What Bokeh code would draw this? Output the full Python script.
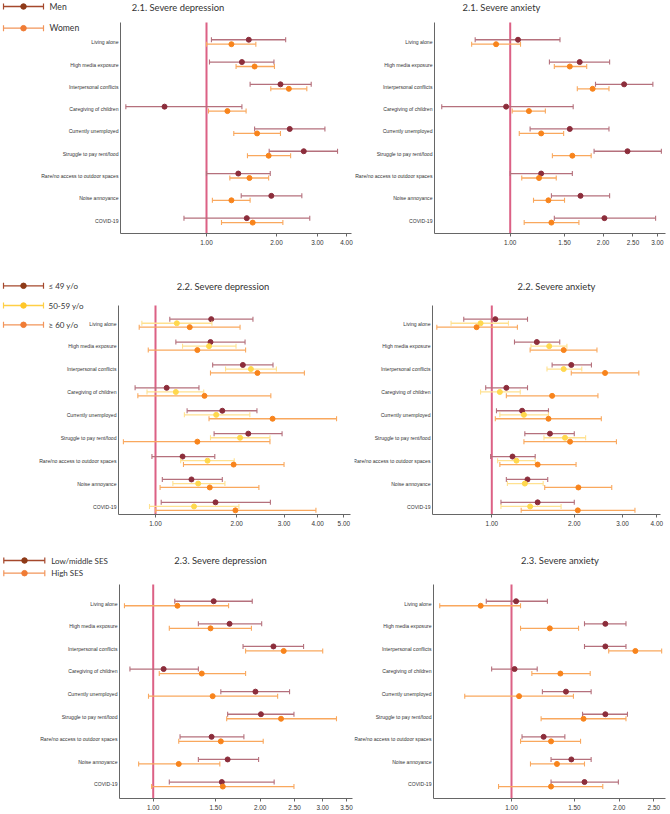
import numpy as np
from bokeh.plotting import figure
from bokeh.layouts import row, column
from bokeh.models import Range1d, FixedTicker, PrintfTickFormatter, Label
from bokeh.embed import file_html
from bokeh.resources import INLINE

# ---------------- data ----------------
categories = ["Living alone", "High media exposure", "Interpersonal conflicts",
              "Caregiving of children", "Currently unemployed", "Struggle to pay rent/food",
              "Rare/no access to outdoor spaces", "Noise annoyance", "COVID-19"]

# 2.1 Severe depression (Men / Women)
dep21_men_or = [1.52, 1.42, 2.08, 0.66, 2.28, 2.62, 1.37, 1.90, 1.49]
dep21_men_lo = [1.05, 1.03, 1.54, 0.45, 1.61, 1.86, 1.00, 1.41, 0.80]
dep21_men_hi = [2.19, 1.95, 2.82, 1.42, 3.23, 3.66, 1.88, 2.57, 2.78]
dep21_women_or = [1.28, 1.61, 2.26, 1.23, 1.65, 1.85, 1.53, 1.28, 1.58]
dep21_women_lo = [1.00, 1.34, 1.89, 1.02, 1.31, 1.50, 1.26, 1.06, 1.16]
dep21_women_hi = [1.63, 1.96, 2.70, 1.48, 2.08, 2.30, 1.85, 1.54, 2.13]

# 2.1 Severe anxiety
anx21_men_or = [1.06, 1.68, 2.34, 0.97, 1.56, 2.40, 1.26, 1.69, 2.02]
anx21_men_lo = [0.77, 1.34, 1.89, 0.60, 1.16, 1.87, 1.00, 1.36, 1.39]
anx21_men_hi = [1.45, 2.10, 2.90, 1.60, 2.09, 3.09, 1.59, 2.10, 2.96]
anx21_women_or = [0.90, 1.56, 1.85, 1.15, 1.26, 1.59, 1.24, 1.33, 1.36]
anx21_women_lo = [0.75, 1.39, 1.65, 1.015, 1.07, 1.37, 1.09, 1.19, 1.11]
anx21_women_hi = [1.08, 1.77, 2.09, 1.30, 1.49, 1.83, 1.41, 1.50, 1.67]

# 2.2 Severe depression (<=49, 50-59, >=60)
dep22_a49_or = [1.61, 1.60, 2.11, 1.10, 1.77, 2.21, 1.26, 1.36, 1.67]
dep22_a49_lo = [1.13, 1.19, 1.63, 0.84, 1.31, 1.65, 0.97, 1.06, 1.05]
dep22_a49_hi = [2.30, 2.15, 2.73, 1.45, 2.38, 2.95, 1.66, 1.77, 2.67]
dep22_a50_or = [1.20, 1.58, 2.26, 1.19, 1.68, 2.06, 1.56, 1.44, 1.39]
dep22_a50_lo = [0.89, 1.26, 1.82, 0.93, 1.28, 1.60, 1.24, 1.16, 0.95]
dep22_a50_hi = [1.62, 1.99, 2.81, 1.51, 2.24, 2.66, 1.96, 1.81, 2.04]
dep22_a60_or = [1.34, 1.43, 2.39, 1.52, 2.72, 1.43, 1.95, 1.59, 1.98]
dep22_a60_lo = [0.87, 0.94, 1.60, 0.86, 1.58, 0.76, 1.27, 1.04, 1.00]
dep22_a60_hi = [2.06, 2.16, 3.57, 2.68, 4.70, 2.66, 3.00, 2.42, 3.94]

# 2.2 Severe anxiety
anx22_a49_or = [1.03, 1.46, 1.95, 1.13, 1.29, 1.63, 1.19, 1.35, 1.47]
anx22_a49_lo = [0.79, 1.21, 1.66, 0.95, 1.04, 1.32, 0.99, 1.13, 1.08]
anx22_a49_hi = [1.35, 1.77, 2.31, 1.35, 1.61, 2.00, 1.44, 1.60, 2.00]
anx22_a50_or = [0.91, 1.62, 1.83, 1.07, 1.31, 1.85, 1.23, 1.32, 1.38]
anx22_a50_lo = [0.71, 1.39, 1.59, 0.91, 1.07, 1.55, 1.05, 1.14, 1.08]
anx22_a50_hi = [1.15, 1.88, 2.13, 1.27, 1.61, 2.20, 1.44, 1.54, 1.79]
anx22_a60_or = [0.88, 1.83, 2.59, 1.66, 1.61, 1.93, 1.47, 2.07, 2.06]
anx22_a60_lo = [0.63, 1.38, 1.95, 1.13, 1.03, 1.31, 1.07, 1.56, 1.28]
anx22_a60_hi = [1.24, 2.42, 3.44, 2.44, 2.51, 2.85, 2.03, 2.74, 3.33]

# 2.3 Severe depression (Low/middle SES, High SES)
dep23_low_or = [1.48, 1.64, 2.18, 1.07, 1.94, 2.01, 1.46, 1.62, 1.56]
dep23_low_lo = [1.15, 1.34, 1.79, 0.86, 1.55, 1.62, 1.19, 1.34, 1.11]
dep23_low_hi = [1.90, 2.02, 2.65, 1.34, 2.42, 2.49, 1.80, 1.98, 2.19]
dep23_high_or = [1.17, 1.45, 2.33, 1.37, 1.47, 2.29, 1.55, 1.18, 1.57]
dep23_high_lo = [0.83, 1.11, 1.82, 1.04, 0.97, 1.61, 1.18, 0.91, 0.99]
dep23_high_hi = [1.63, 1.89, 3.00, 1.82, 2.24, 3.28, 2.04, 1.54, 2.49]

# 2.3 Severe anxiety
anx23_low_or = [1.03, 1.83, 1.83, 1.02, 1.42, 1.83, 1.23, 1.47, 1.60]
anx23_low_lo = [0.85, 1.60, 1.60, 0.88, 1.22, 1.58, 1.07, 1.29, 1.29]
anx23_low_hi = [1.26, 2.09, 2.09, 1.18, 1.67, 2.11, 1.41, 1.67, 1.99]
anx23_high_or = [0.82, 1.28, 2.22, 1.37, 1.05, 1.59, 1.29, 1.34, 1.29]
anx23_high_lo = [0.63, 1.06, 1.87, 1.14, 0.74, 1.21, 1.06, 1.13, 0.92]
anx23_high_hi = [1.06, 1.54, 2.63, 1.66, 1.49, 2.09, 1.56, 1.60, 1.80]

ticks_dep21 = [1, 2, 3, 4]
ticks_anx21 = [1, 1.5, 2, 2.5, 3]
ticks_dep22 = [1, 2, 3, 4, 5]
ticks_anx22 = [1, 2, 3, 4]
ticks_dep23 = [1, 1.5, 2, 2.5, 3, 3.5]
ticks_anx23 = [1, 1.5, 2, 2.5]

legend_sex = ["Men", "Women"]
legend_age = ["\u2264 49 y/o", "50-59 y/o", "\u2265 60 y/o"]
legend_ses = ["Low/middle SES", "High SES"]

titles = ["2.1. Severe depression", "2.1. Severe anxiety",
          "2.2. Severe depression", "2.2. Severe anxiety",
          "2.3. Severe depression", "2.3. Severe anxiety"]

# ---------------- styles ----------------
DARK = ("#8c2d3b", "#b5707c")
ORNG = ("#f8841c", "#f9a85e")
YELL = ("#ffd84d", "#ffe190")
REF = "#d64570"
AXC = "#666666"
TXT = "#333333"
LEG_DARK = ("#8e3a18", "#a5482c")
LEG_ORNG = ("#f07c35", "#f2955a")
LEG_YELL = ("#ffc72a", "#ffcf45")


def make_panel(g, title, ticks, groups, legend=None):
    fx0, fx1, ry0, ry1 = g["fx0"], g["fx1"], g["ry0"], g["ry1"]
    W = fx1 - fx0
    H = ry1 - ry0

    def xv(px):   # pixel position -> data value on the log axis
        return float(np.exp((px - g["xref"]) / g["k"]))

    def yv(py):
        return (py - g["y0"]) / g["dy"]

    xr = Range1d(xv(fx0), xv(fx1))
    yr = Range1d(yv(ry1), yv(ry0))
    p = figure(width=W, height=H, x_axis_type="log", x_range=xr, y_range=yr,
               output_backend="svg", toolbar_location=None,
               min_border=0, min_border_left=0, min_border_right=0,
               min_border_top=0, min_border_bottom=0)
    p.outline_line_color = None
    p.xgrid.visible = False
    p.ygrid.visible = False
    p.background_fill_color = "white"
    p.border_fill_color = "white"

    xa = p.xaxis[0]
    xa.fixed_location = yv(g["B"])
    xa.bounds = (xv(g["L"]), xv(g["R"]))
    xa.ticker = FixedTicker(ticks=ticks, minor_ticks=[])
    xa.formatter = PrintfTickFormatter(format="%.2f")
    xa.axis_line_color = AXC
    xa.major_tick_line_color = AXC
    xa.major_tick_out = 3
    xa.major_tick_in = 0
    xa.minor_tick_line_color = None
    xa.major_label_standoff = 3
    xa.major_label_text_font = "Liberation Sans"
    xa.major_label_text_font_size = "6.4px"
    xa.major_label_text_color = TXT

    ya = p.yaxis[0]
    ya.fixed_location = xv(g["L"])
    ya.bounds = (yv(g["T"]), yv(g["B"]))
    ya.ticker = FixedTicker(ticks=list(range(len(categories))), minor_ticks=[])
    ya.major_label_overrides = {i: c for i, c in enumerate(categories)}
    ya.axis_line_color = AXC
    ya.major_tick_line_color = None
    ya.minor_tick_line_color = None
    ya.major_tick_out = 0
    ya.major_tick_in = 0
    ya.major_label_standoff = 2
    ya.major_label_text_font = "Liberation Sans"
    ya.major_label_text_font_size = "5.1px"
    ya.major_label_text_color = TXT

    # reference line at OR = 1
    p.segment(x0=[1], x1=[1], y0=[yv(g["T"])], y1=[yv(g["B"])],
              line_color=REF, line_width=2, line_alpha=0.85)

    idx = np.arange(len(categories))
    for (ors, los, his, cols, off) in groups:
        y = idx + off
        p.segment(x0=los, x1=his, y0=y, y1=y, line_color=cols[1], line_width=1.3)
        p.scatter(x=los, y=y, marker="dash", angle=np.pi / 2, size=5,
                  line_color=cols[1], line_width=1.1)
        p.scatter(x=his, y=y, marker="dash", angle=np.pi / 2, size=5,
                  line_color=cols[1], line_width=1.1)
        p.scatter(x=ors, y=y, marker="circle", size=5,
                  fill_color=cols[0], line_color=cols[0])

    p.add_layout(Label(x=xv(g["title_x"]), y=yv(g["title_y"]), text=title,
                       text_align="center", text_baseline="middle",
                       text_font="Lato", text_font_size="9.4px",
                       text_color=TXT))

    if legend is not None:
        for (lab, cols, ly, x0, x1, xd, xt, fs) in legend:
            yy = yv(ly)
            p.segment(x0=[xv(x0)], x1=[xv(x1)], y0=[yy], y1=[yy],
                      line_color=cols[1], line_width=1.3)
            p.scatter(x=[xv(x0), xv(x1)], y=[yy, yy], marker="dash", angle=np.pi / 2,
                      size=6, line_color=cols[1], line_width=1.2)
            p.scatter(x=[xv(xd)], y=[yy], marker="circle", size=5.5,
                      fill_color=cols[0], line_color=cols[0])
            p.add_layout(Label(x=xv(xt), y=yy, text=lab,
                               text_align="left", text_baseline="middle",
                               text_font="Lato", text_font_size=f"{fs}px",
                               text_color=TXT))
    return p


# geometry in page pixels
G1 = dict(fx0=0, fx1=354, ry0=0, ry1=258, L=120, R=351, T=22, B=233, xref=206, k=101,
          y0=41.7, dy=22.3, title_x=177.5, title_y=6.5)
G2 = dict(fx0=354, fx1=670, ry0=0, ry1=258, L=434, R=665, T=22, B=233, xref=509.7, k=134,
          y0=41.7, dy=22.3, title_x=501, title_y=6.5)
G3 = dict(fx0=0, fx1=354, ry0=258, ry1=530, L=118, R=350, T=305, B=514, xref=155, k=117,
          y0=323, dy=22.9, title_x=222.5, title_y=286)
G4 = dict(fx0=354, fx1=670, ry0=258, ry1=530, L=432, R=660, T=305, B=514, xref=491.3, k=119,
          y0=323, dy=22.9, title_x=556, title_y=286)
G5 = dict(fx0=0, fx1=354, ry0=530, ry1=812, L=119, R=352, T=584, B=798, xref=152.7, k=154.3,
          y0=603, dy=22.6, title_x=220, title_y=559.7)
G6 = dict(fx0=354, fx1=670, ry0=530, ry1=812, L=433, R=665, T=584, B=798, xref=511, k=155.3,
          y0=603, dy=22.6, title_x=559.5, title_y=559.7)

leg1 = [(legend_sex[0], LEG_DARK, 6.0, 3, 43, 23, 49, 8.6),
        (legend_sex[1], LEG_ORNG, 27.7, 3, 43, 23, 49, 8.6)]
leg3 = [(legend_age[0], LEG_DARK, 285.3, 3, 43, 23, 48, 8.0),
        (legend_age[1], LEG_YELL, 305.0, 3, 43, 23, 48, 8.0),
        (legend_age[2], LEG_ORNG, 324.3, 3, 43, 23, 48, 8.0)]
leg5 = [(legend_ses[0], LEG_DARK, 560.0, 3.3, 44.3, 24, 50.7, 8.0),
        (legend_ses[1], LEG_ORNG, 572.7, 3.3, 44.3, 24, 50.7, 8.0)]

p1 = make_panel(G1, titles[0], ticks_dep21, [
    (dep21_men_or, dep21_men_lo, dep21_men_hi, DARK, -0.11),
    (dep21_women_or, dep21_women_lo, dep21_women_hi, ORNG, 0.09)], leg1)
p2 = make_panel(G2, titles[1], ticks_anx21, [
    (anx21_men_or, anx21_men_lo, anx21_men_hi, DARK, -0.11),
    (anx21_women_or, anx21_women_lo, anx21_women_hi, ORNG, 0.09)])
p3 = make_panel(G3, titles[2], ticks_dep22, [
    (dep22_a49_or, dep22_a49_lo, dep22_a49_hi, DARK, -0.19),
    (dep22_a50_or, dep22_a50_lo, dep22_a50_hi, YELL, -0.01),
    (dep22_a60_or, dep22_a60_lo, dep22_a60_hi, ORNG, 0.16)], leg3)
p4 = make_panel(G4, titles[3], ticks_anx22, [
    (anx22_a49_or, anx22_a49_lo, anx22_a49_hi, DARK, -0.19),
    (anx22_a50_or, anx22_a50_lo, anx22_a50_hi, YELL, -0.01),
    (anx22_a60_or, anx22_a60_lo, anx22_a60_hi, ORNG, 0.16)])
p5 = make_panel(G5, titles[4], ticks_dep23, [
    (dep23_low_or, dep23_low_lo, dep23_low_hi, DARK, -0.10),
    (dep23_high_or, dep23_high_lo, dep23_high_hi, ORNG, 0.10)], leg5)
p6 = make_panel(G6, titles[5], ticks_anx23, [
    (anx23_low_or, anx23_low_lo, anx23_low_hi, DARK, -0.10),
    (anx23_high_or, anx23_high_lo, anx23_high_hi, ORNG, 0.10)])

layout = column(row(p1, p2), row(p3, p4), row(p5, p6))
open("out.html", "w").write(file_html(layout, INLINE))
